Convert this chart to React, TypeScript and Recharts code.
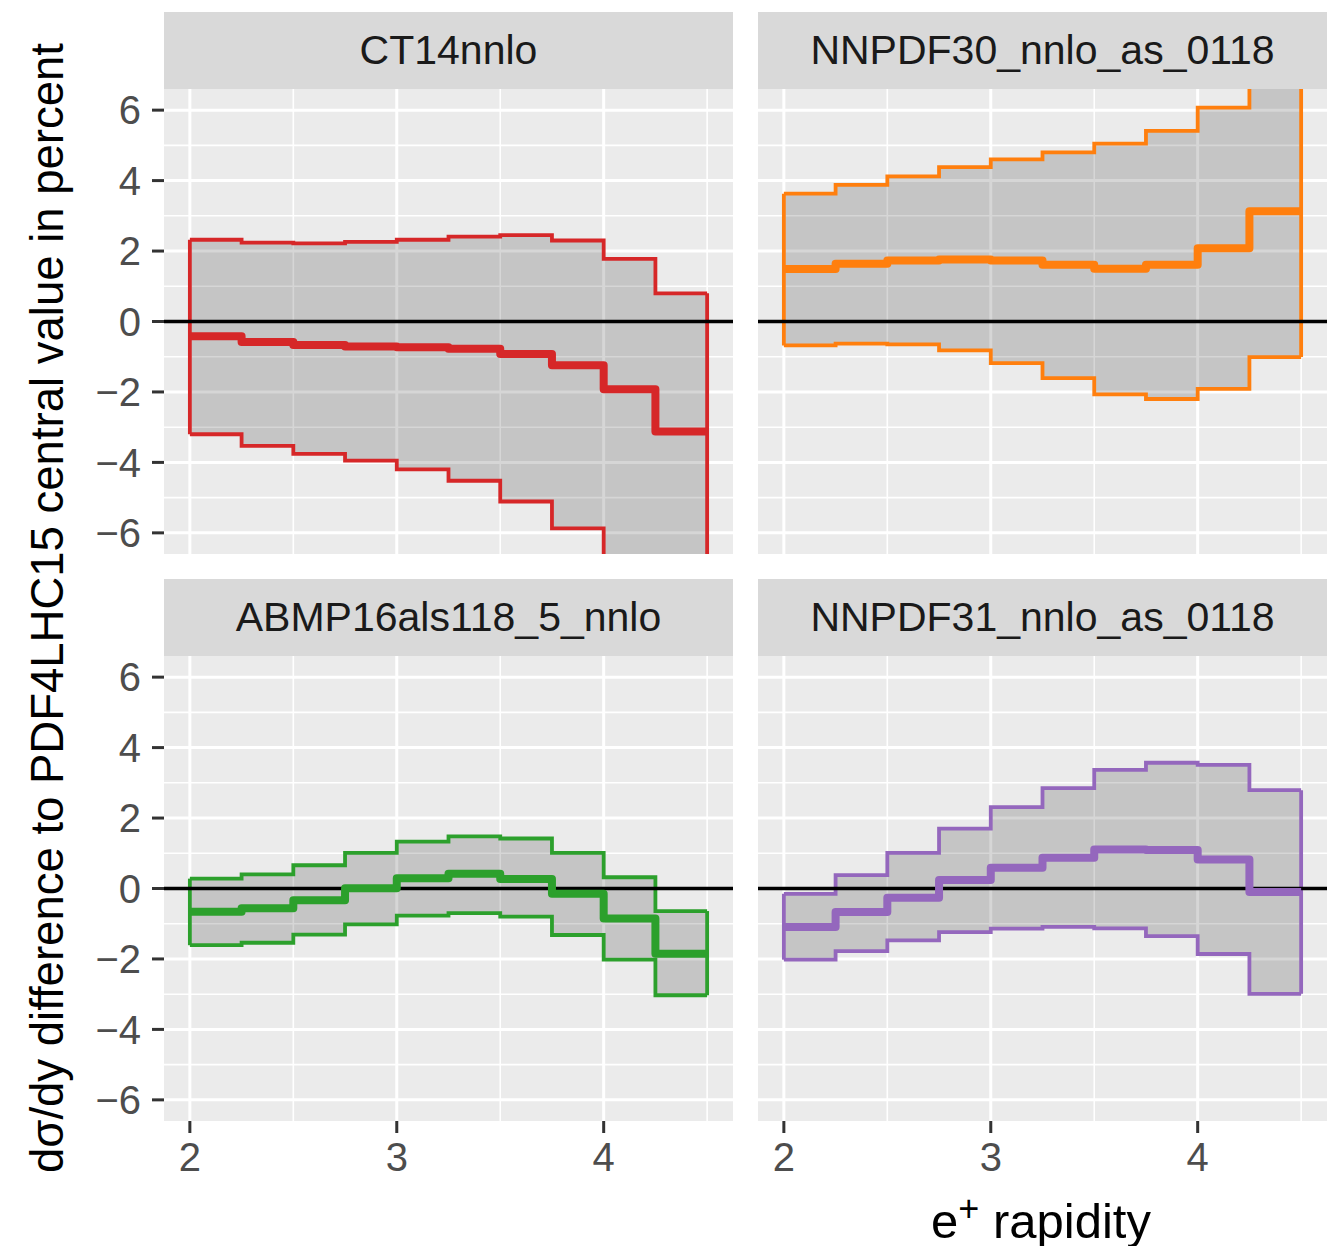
import React from 'react';
import { ComposedChart, Area, Line, XAxis, YAxis, CartesianGrid, ReferenceLine } from 'recharts';

// bin edges of e+ rapidity (10 bins)
const binEdges = [2, 2.25, 2.5, 2.75, 3, 3.25, 3.5, 3.75, 4, 4.25, 4.5];

const ct14Upper = [2.32, 2.24, 2.22, 2.26, 2.32, 2.41, 2.45, 2.3, 1.78, 0.8];
const ct14Central = [-0.42, -0.58, -0.67, -0.71, -0.73, -0.77, -0.92, -1.24, -1.92, -3.12];
const ct14Lower = [-3.2, -3.53, -3.76, -3.95, -4.2, -4.52, -5.11, -5.87, -7.4, -9.0];

const nnpdf30Upper = [3.63, 3.88, 4.12, 4.38, 4.6, 4.8, 5.05, 5.41, 6.07, 7.2];
const nnpdf30Central = [1.49, 1.64, 1.73, 1.76, 1.73, 1.61, 1.5, 1.61, 2.08, 3.13];
const nnpdf30Lower = [-0.68, -0.63, -0.65, -0.82, -1.18, -1.61, -2.07, -2.2, -1.91, -1.01];

const abmpUpper = [0.28, 0.4, 0.66, 1.01, 1.33, 1.48, 1.42, 1.01, 0.32, -0.64];
const abmpCentral = [-0.66, -0.56, -0.33, 0.01, 0.29, 0.42, 0.27, -0.15, -0.85, -1.85];
const abmpLower = [-1.61, -1.54, -1.31, -1.02, -0.77, -0.7, -0.8, -1.32, -2.02, -3.03];

const nnpdf31Upper = [-0.15, 0.38, 1.01, 1.7, 2.31, 2.85, 3.37, 3.57, 3.51, 2.79];
const nnpdf31Central = [-1.09, -0.67, -0.26, 0.24, 0.59, 0.87, 1.11, 1.09, 0.82, -0.1];
const nnpdf31Lower = [-2.02, -1.78, -1.47, -1.24, -1.14, -1.09, -1.13, -1.35, -1.86, -2.99];

const yTicks = [-6, -4, -2, 0, 2, 4, 6];
const yMinor = [-5, -3, -1, 1, 3, 5];
const xTicks = [2, 3, 4];
const xMinor = [2.5, 3.5, 4.5];

const FONT = '"Liberation Sans", Arial, Helvetica, sans-serif';

function stepRows(lower: number[], central: number[], upper: number[]) {
  return binEdges.map((x, i) => {
    const k = Math.min(i, central.length - 1);
    return { x, band: [lower[k], upper[k]], central: central[k] };
  });
}

type PanelProps = {
  title: string;
  color: string;
  lower: number[];
  central: number[];
  upper: number[];
  left: number;
  top: number;
  showY: boolean;
  showX: boolean;
};

const PLOT_W = 569;
const PLOT_H = 465;
const Y_AXIS_W = 164;
const X_AXIS_H = 80;
const BAND_W = 3.8;

function Panel({ title, color, lower, central, upper, left, top, showY, showX }: PanelProps) {
  const rows = stepRows(lower, central, upper);
  const last = lower.length - 1;
  const xEnd = binEdges[binEdges.length - 1];
  const w = PLOT_W + (showY ? Y_AXIS_W : 0);
  const h = PLOT_H + (showX ? X_AXIS_H : 0);
  const chartLeft = left - (showY ? Y_AXIS_W : 0);

  return (
    <>
      <div
        style={{
          position: 'absolute',
          left,
          top: top - 77,
          width: PLOT_W,
          height: 77,
          background: '#D9D9D9',
          color: '#1A1A1A',
          fontSize: 41,
          fontFamily: FONT,
          display: 'flex',
          alignItems: 'center',
          justifyContent: 'center',
        }}
      >
        {title}
      </div>
      <div style={{ position: 'absolute', left: chartLeft, top }}>
        <ComposedChart width={w} height={h} data={rows} margin={{ top: 0, right: 0, bottom: 0, left: 0 }}>
          <CartesianGrid
            fill="#EBEBEB"
            stroke="#FFFFFF"
            strokeWidth={1.6}
            horizontalValues={yMinor}
            verticalValues={xMinor}
          />
          <CartesianGrid
            fill="none"
            stroke="#FFFFFF"
            strokeWidth={3}
            horizontalValues={yTicks}
            verticalValues={xTicks}
          />
          <XAxis
            type="number"
            dataKey="x"
            domain={[1.875, 4.625]}
            ticks={xTicks}
            interval={0}
            allowDataOverflow
            hide={!showX}
            height={X_AXIS_H}
            axisLine={false}
            tickSize={12}
            tickMargin={10}
            tickLine={{ stroke: '#333333', strokeWidth: 3 }}
            tick={{ fill: '#4D4D4D', fontSize: 40, fontFamily: FONT }}
          />
          <YAxis
            type="number"
            domain={[-6.6, 6.6]}
            ticks={yTicks}
            interval={0}
            allowDataOverflow
            hide={!showY}
            width={Y_AXIS_W}
            axisLine={false}
            tickSize={12}
            tickMargin={11}
            tickLine={{ stroke: '#333333', strokeWidth: 3 }}
            tick={{ fill: '#4D4D4D', fontSize: 40, fontFamily: FONT }}
            tickFormatter={(v: number) => String(v).replace('-', '\u2212')}
          />
          <Area
            type="stepAfter"
            dataKey="band"
            fill="#000000"
            fillOpacity={0.16}
            stroke={color}
            strokeWidth={BAND_W}
            isAnimationActive={false}
          />
          <ReferenceLine
            segment={[
              { x: binEdges[0], y: lower[0] },
              { x: binEdges[0], y: upper[0] },
            ]}
            stroke={color}
            strokeWidth={BAND_W}
            ifOverflow="hidden"
          />
          <ReferenceLine
            segment={[
              { x: xEnd, y: lower[last] },
              { x: xEnd, y: upper[last] },
            ]}
            stroke={color}
            strokeWidth={BAND_W}
            ifOverflow="hidden"
          />
          <ReferenceLine y={0} stroke="#000000" strokeWidth={3.6} />
          <Line
            type="stepAfter"
            dataKey="central"
            stroke={color}
            strokeWidth={8}
            strokeLinejoin="round"
            dot={false}
            isAnimationActive={false}
          />
        </ComposedChart>
      </div>
    </>
  );
}

export default function App() {
  return (
    <div style={{ position: 'absolute', left: 0, top: 0, width: 1342, height: 1246, background: '#FFFFFF' }}>
      <Panel title="CT14nnlo" color="#D62728" lower={ct14Lower} central={ct14Central} upper={ct14Upper}
        left={164} top={89} showY showX={false} />
      <Panel title="NNPDF30_nnlo_as_0118" color="#FF7F0E" lower={nnpdf30Lower} central={nnpdf30Central} upper={nnpdf30Upper}
        left={758} top={89} showY={false} showX={false} />
      <Panel title="ABMP16als118_5_nnlo" color="#2CA02C" lower={abmpLower} central={abmpCentral} upper={abmpUpper}
        left={164} top={656} showY showX />
      <Panel title="NNPDF31_nnlo_as_0118" color="#9467BD" lower={nnpdf31Lower} central={nnpdf31Central} upper={nnpdf31Upper}
        left={758} top={656} showY={false} showX />
      <div
        style={{
          position: 'absolute',
          left: 48,
          top: 608,
          transform: 'translate(-50%, -50%) rotate(-90deg)',
          whiteSpace: 'nowrap',
          fontSize: 45.5,
          fontFamily: FONT,
          color: '#000000',
        }}
      >
        dσ/dy difference to PDF4LHC15 central value in percent
      </div>
      <div
        style={{
          position: 'absolute',
          left: 1041,
          top: 1188,
          transform: 'translateX(-50%)',
          whiteSpace: 'nowrap',
          fontSize: 49,
          fontFamily: FONT,
          color: '#000000',
        }}
      >
        e<sup style={{ fontSize: 36 }}>+</sup> rapidity
      </div>
    </div>
  );
}
